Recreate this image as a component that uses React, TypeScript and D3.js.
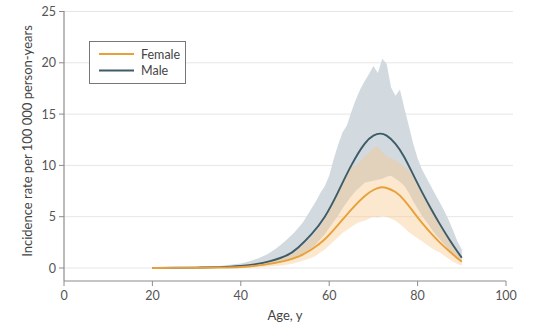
import React from "react";
import * as d3 from "d3";

const lineAges = [20, 25, 30, 35, 40, 45, 50, 53, 56, 59, 62, 65, 68, 70, 71.5, 73, 75, 77, 79, 81, 83, 85, 87, 89, 90];
const maleRate = [0.01, 0.02, 0.04, 0.09, 0.2, 0.5, 1.15, 2.0, 3.3, 5.0, 7.4, 10.0, 12.1, 12.9, 13.1, 12.9, 12.1, 10.8, 9.1, 7.4, 5.8, 4.3, 2.9, 1.6, 1.0];
const femaleRate = [0.0, 0.01, 0.02, 0.05, 0.1, 0.3, 0.7, 1.1, 1.8, 2.8, 4.2, 5.7, 7.0, 7.6, 7.85, 7.8, 7.4, 6.6, 5.5, 4.4, 3.4, 2.5, 1.7, 0.95, 0.6];

const bandAges = [20, 25, 30, 35, 40, 42, 44, 46, 48, 50, 52, 54, 56, 57, 58, 59, 60, 61, 62, 63, 64, 65, 66, 67, 68, 69, 70, 71, 72, 73, 74, 75, 76, 77, 78, 79, 80, 81, 82, 83, 84, 85, 86, 87, 88, 89, 90];
const maleUpper = [0.05, 0.07, 0.12, 0.2, 0.45, 0.65, 0.95, 1.35, 1.9, 2.6, 3.4, 4.4, 5.8, 6.5, 7.3, 8.0, 9.0, 10.6, 12.0, 13.2, 13.9, 15.2, 16.4, 17.4, 18.2, 18.9, 19.7, 19.0, 20.4, 19.9, 17.6, 16.8, 17.4, 15.6, 13.9, 12.1, 10.7, 9.6, 8.8, 8.0, 7.2, 6.4, 5.6, 4.7, 3.7, 2.6, 1.8];
const maleLower = [0.0, 0.0, 0.01, 0.03, 0.08, 0.12, 0.2, 0.3, 0.45, 0.65, 0.9, 1.3, 1.9, 2.3, 2.8, 3.3, 3.9, 4.5, 5.1, 5.8, 6.4, 7.0, 7.5, 7.9, 8.3, 8.4, 8.5, 8.6, 8.7, 8.9, 9.0, 8.7, 8.4, 8.0, 7.3, 6.5, 5.8, 5.1, 4.5, 3.9, 3.3, 2.8, 2.3, 1.8, 1.3, 0.9, 0.6];
const femaleUpper = [0.02, 0.03, 0.05, 0.1, 0.22, 0.32, 0.45, 0.65, 0.9, 1.2, 1.6, 2.2, 3.0, 3.5, 4.1, 4.8, 5.6, 6.6, 7.6, 8.4, 9.3, 9.8, 10.0, 10.4, 10.9, 11.2, 11.7, 11.9, 11.3, 10.9, 10.7, 10.5, 10.2, 9.9, 9.5, 8.9, 8.1, 7.4, 6.7, 6.0, 5.2, 4.5, 3.8, 3.1, 2.4, 1.7, 1.2];
const femaleLower = [0, 0, 0, 0.01, 0.03, 0.05, 0.08, 0.12, 0.2, 0.3, 0.45, 0.7, 1.0, 1.2, 1.5, 1.8, 2.2, 2.6, 3.0, 3.4, 3.7, 4.0, 4.3, 4.5, 4.6, 4.8, 5.0, 4.9, 5.1, 5.0, 4.8, 4.6, 4.3, 3.9, 3.5, 3.2, 2.9, 2.6, 2.3, 2.0, 1.7, 1.5, 1.2, 0.9, 0.6, 0.4, 0.25];

const xTicks = [0, 20, 40, 60, 80, 100];
const yTicks = [0, 5, 10, 15, 20, 25];
const seriesNames = ["Female", "Male"];

const FEMALE = "#e8a13a";
const MALE = "#3e5b68";
const FONT = "Lato, 'Open Sans', sans-serif";

export default function App() {
  const W = 541, H = 328;
  const x = d3.scaleLinear().domain([0, 100]).range([64, 506]);
  const y = d3.scaleLinear().domain([0, 25]).range([268, 11.5]);

  const lineGen = (vals: number[]) =>
    d3.line<number>().x((_, i) => x(lineAges[i])).y((d) => y(d)).curve(d3.curveNatural)(vals) || "";
  const areaGen = (lo: number[], hi: number[]) =>
    d3.area<number>().x((_, i) => x(bandAges[i])).y0((_, i) => y(lo[i])).y1((d) => y(d)).curve(d3.curveLinear)(hi) || "";

  const axisColor = "#8c8c8c";
  const textColor = "#555";

  return (
    <svg width={W} height={H} style={{ position: "absolute", left: 0, top: 0 }} fontFamily={FONT}>
      <rect width={W} height={H} fill="#fff" />
      {yTicks.map((t) => (
        <g key={t}>
          <line x1={64} x2={513} y1={y(t)} y2={y(t)} stroke="#e6e6e6" strokeWidth={1} />
          <line x1={59} x2={64} y1={y(t)} y2={y(t)} stroke={axisColor} strokeWidth={1} />
          <text x={56} y={y(t) + 4.5} textAnchor="end" fontSize={12.5} fill={textColor}>{t}</text>
        </g>
      ))}
      <path d={areaGen(maleLower, maleUpper)} fill="#d2dae0" />
      <path d={areaGen(femaleLower, femaleUpper)} fill="#f9c98a" fillOpacity={0.42} />
      <path d={lineGen(maleRate)} fill="none" stroke={MALE} strokeWidth={1.9} />
      <path d={lineGen(femaleRate)} fill="none" stroke={FEMALE} strokeWidth={1.9} />

      <line x1={64} x2={64} y1={11} y2={281} stroke={axisColor} strokeWidth={1.2} />
      <line x1={64} x2={506} y1={281} y2={281} stroke={axisColor} strokeWidth={1.2} />
      {xTicks.map((t) => (
        <g key={t}>
          <line x1={x(t)} x2={x(t)} y1={281} y2={286} stroke={axisColor} strokeWidth={1} />
          <text x={x(t)} y={300} textAnchor="middle" fontSize={12.5} fill={textColor}>{t}</text>
        </g>
      ))}
      <text x={285} y={320} textAnchor="middle" fontSize={13} fill="#444">Age, y</text>
      <text transform={`translate(32,141) rotate(-90)`} textAnchor="middle" fontSize={13} fill="#444">
        Incidence rate per 100 000 person-years
      </text>

      <rect x={89.5} y={41.5} width={96} height={42} fill="#fff" stroke="#777" strokeWidth={1} />
      {seriesNames.map((n, i) => (
        <g key={n}>
          <line x1={99} x2={134} y1={54 + i * 16.5} y2={54 + i * 16.5} stroke={i === 0 ? FEMALE : MALE} strokeWidth={2} />
          <text x={141} y={58.5 + i * 16.5} fontSize={12.5} fill="#444">{n}</text>
        </g>
      ))}
    </svg>
  );
}
